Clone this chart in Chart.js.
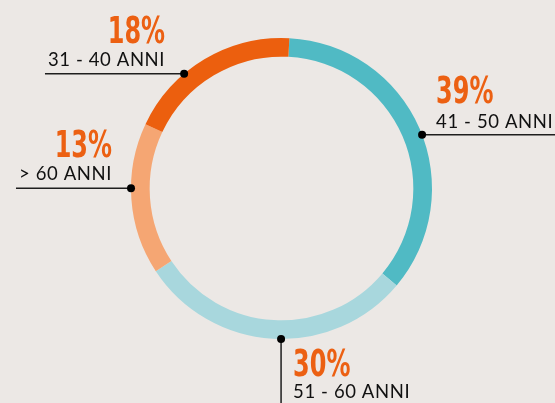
<!DOCTYPE html>
<html>
<head>
<meta charset="utf-8">
<script src="https://cdn.jsdelivr.net/npm/chart.js@4"></script>
<style>
  html, body { margin: 0; padding: 0; background: #ece8e5; }
  #wrap { width: 555px; height: 403px; position: relative; }
</style>
</head>
<body>
<div id="wrap"><canvas id="ageChart"></canvas></div>
<script>
// fasce d'età (ordine orario partendo dall'alto)
const categories = ['41 - 50 ANNI', '51 - 60 ANNI', '> 60 ANNI', '31 - 40 ANNI'];
// percentuali scritte sulle etichette
const percentLabels = ['39%', '30%', '13%', '18%'];
// ampiezza degli archi come disegnati nella figura
const shares = [35.3, 29.6, 16.3, 18.8];
const colors = ['#50bac4', '#a8d7dd', '#f5a673', '#ec5f0e'];

// where the leader leaves each arc (fraction of the arc) and which way it goes
const leaderPos = [0.52, 0.47, 0.57, 0.36];
const leaderDir = ['right', 'down', 'left', 'left'];

const catFont = '18.5px Lato';

const leaderPlugin = {
    id: 'leaders',
    afterDatasetsDraw(chart) {
        const ctx = chart.ctx;
        const meta = chart.getDatasetMeta(0);
        const W = chart.width, H = chart.height;
        meta.data.forEach(function (arc, i) {
            const p = arc.getProps(['x', 'y', 'startAngle', 'endAngle', 'outerRadius'], true);
            const a = p.startAngle + (p.endAngle - p.startAngle) * leaderPos[i];
            const dx = p.x + Math.cos(a) * p.outerRadius;
            const dy = p.y + Math.sin(a) * p.outerRadius;
            const dir = leaderDir[i];

            ctx.save();
            ctx.font = catFont;
            ctx.letterSpacing = '0.6px';
            const catW = ctx.measureText(categories[i]).width;

            // leader line
            ctx.strokeStyle = '#1e1e1e';
            ctx.lineWidth = 1.5;
            ctx.beginPath();
            ctx.moveTo(dx, dy);
            if (dir === 'left') ctx.lineTo(dx - 19 - catW - 3, dy);
            else if (dir === 'right') ctx.lineTo(W, dy);
            else ctx.lineTo(dx, H);
            ctx.stroke();

            ctx.fillStyle = '#000';
            ctx.beginPath();
            ctx.arc(dx, dy, 4, 0, Math.PI * 2);
            ctx.fill();

            // texts
            let tx, ty1, ty2, align;
            if (dir === 'left') { tx = dx - 19; ty1 = dy - 31; ty2 = dy - 8; align = 'right'; }
            else if (dir === 'right') { tx = dx + 14; ty1 = dy - 32; ty2 = dy - 7; align = 'left'; }
            else { tx = dx + 12; ty1 = dy + 37; ty2 = dy + 59; align = 'left'; }

            ctx.textAlign = align;
            ctx.textBaseline = 'alphabetic';
            ctx.fillStyle = '#111';
            ctx.font = catFont;
            ctx.fillText(categories[i], tx, ty2);

            ctx.letterSpacing = '0px';
            ctx.fillStyle = '#ec6012';
            ctx.font = 'bold 37px "Liberation Sans Narrow", "DejaVu Sans Condensed", sans-serif';
            ctx.translate(tx, ty1);
            ctx.scale(0.72, 1);
            ctx.fillText(percentLabels[i], 0, 0);
            ctx.restore();
        });
    }
};

new Chart(document.getElementById('ageChart'), {
    type: 'doughnut',
    data: {
        labels: categories,
        datasets: [{
            data: shares,
            backgroundColor: colors,
            borderWidth: 0
        }]
    },
    options: {
        responsive: true,
        maintainAspectRatio: false,
        animation: false,
        rotation: 3,
        cutout: '87.6%',
        layout: {
            padding: { top: 38, bottom: 64, left: 131, right: 123 }
        },
        plugins: {
            legend: { display: false },
            tooltip: { enabled: false }
        }
    },
    plugins: [leaderPlugin]
});
</script>
</body>
</html>
